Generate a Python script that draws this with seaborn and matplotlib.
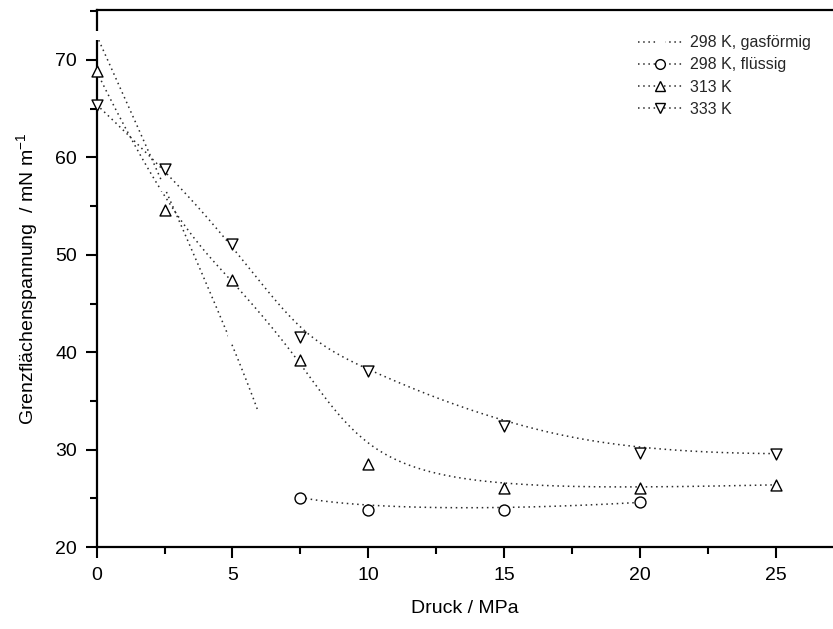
import numpy as np
import pandas as pd
import matplotlib
matplotlib.use("Agg")
import matplotlib.pyplot as plt
import seaborn as sns
from matplotlib.lines import Line2D
from matplotlib.ticker import MultipleLocator

# ---- data ----
p_gas = [0, 2.5, 5, 6]
s_gas = [72.5, 57.0, 41.3, 33.5]
p_liq = [7.5, 10, 15, 20]
s_liq = [25.1, 23.8, 23.8, 24.6]
p_313 = [0, 2.5, 5, 7.5, 10, 15, 20, 25]
s_313 = [68.8, 54.6, 47.4, 39.2, 28.5, 26.1, 26.1, 26.4]
p_333 = [0, 2.5, 5, 7.5, 10, 15, 20, 25]
s_333 = [65.4, 58.8, 51.1, 41.6, 38.1, 32.4, 29.7, 29.6]
labels = ["298 K, gasförmig", "298 K, flüssig", "313 K", "333 K"]


def bspline(px, py, num=300):
    P = np.column_stack([px, py]).astype(float)
    n = len(P)
    k = min(3, n - 1)
    inner = np.linspace(0, 1, n - k + 1)[1:-1]
    t = np.concatenate([np.zeros(k + 1), inner, np.ones(k + 1)])
    out = []
    for u in np.linspace(0, 1, num):
        if u >= 1:
            s = n - 1
        else:
            s = np.searchsorted(t, u, side="right") - 1
        d = [P[j + s - k].copy() for j in range(k + 1)]
        for r in range(1, k + 1):
            for j in range(k, r - 1, -1):
                i = j + s - k
                den = t[i + k + 1 - r] - t[i]
                a = 0.0 if den == 0 else (u - t[i]) / den
                d[j] = (1 - a) * d[j - 1] + a * d[j]
        out.append(d[k])
    return np.array(out)


sns.set_theme(style="ticks")
plt.rcParams["font.family"] = ["Liberation Sans", "DejaVu Sans"]

fig = plt.figure(figsize=(8.33, 6.29), dpi=100)
ax = fig.add_axes([0.116, 0.130, 0.884, 0.854])

lc = "#2a2a2a"
dot = (0, (1, 2.4))
series = [
    (p_gas, s_gas, None),
    (p_liq, s_liq, "o"),
    (p_313, s_313, "^"),
    (p_333, s_333, "v"),
]
for px, py, m in series:
    c = bspline(px, py)
    df = pd.DataFrame({"x": c[:, 0], "y": c[:, 1]})
    sns.lineplot(data=df, x="x", y="y", ax=ax, sort=False, color=lc,
                 lw=1.1, linestyle=dot, estimator=None, zorder=2)
    dd = pd.DataFrame({"x": px, "y": py})
    if m is None:
        sns.scatterplot(data=dd, x="x", y="y", ax=ax, marker="s", s=40,
                        color="white", edgecolor="none", linewidth=0,
                        zorder=3, clip_on=False)
    else:
        sns.scatterplot(data=dd, x="x", y="y", ax=ax, marker=m, s=62,
                        facecolor="white", edgecolor="black", linewidth=1.0,
                        zorder=4, clip_on=False)

ax.set_xlim(0, 27.1)
ax.set_ylim(20, 75.1)
ax.xaxis.set_major_locator(MultipleLocator(5))
ax.xaxis.set_minor_locator(MultipleLocator(2.5))
ax.yaxis.set_major_locator(MultipleLocator(10))
ax.yaxis.set_minor_locator(MultipleLocator(5))
ax.tick_params(which="major", direction="out", length=8, width=1.5,
               labelsize=14, color="black", labelcolor="black", pad=6)
ax.tick_params(which="minor", direction="out", length=5, width=1.5,
               color="black")
for sp in ["left", "bottom", "top"]:
    ax.spines[sp].set_linewidth(1.6)
    ax.spines[sp].set_color("black")
ax.spines["right"].set_visible(False)

ax.set_xlabel("Druck / MPa", fontsize=14, color="black", labelpad=12)
ax.set_ylabel("Grenzflächenspannung  / mN m$^{\\mathregular{-1}}$", fontsize=14,
              color="black", labelpad=10)

handles = [
    Line2D([], [], color=lc, lw=1.1, linestyle=dot, marker="s",
           markerfacecolor="white", markeredgecolor="none", markersize=7),
    Line2D([], [], color=lc, lw=1.1, linestyle=dot, marker="o",
           markerfacecolor="white", markeredgecolor="black", markersize=7),
    Line2D([], [], color=lc, lw=1.1, linestyle=dot, marker="^",
           markerfacecolor="white", markeredgecolor="black", markersize=7.5),
    Line2D([], [], color=lc, lw=1.1, linestyle=dot, marker="v",
           markerfacecolor="white", markeredgecolor="black", markersize=7.5),
]
ax.legend(handles, labels, loc="upper right", bbox_to_anchor=(0.99, 0.98),
          frameon=False, fontsize=11.5, handlelength=2.8, handletextpad=0.5,
          labelspacing=0.45)

fig.savefig("out.png", dpi=100)
